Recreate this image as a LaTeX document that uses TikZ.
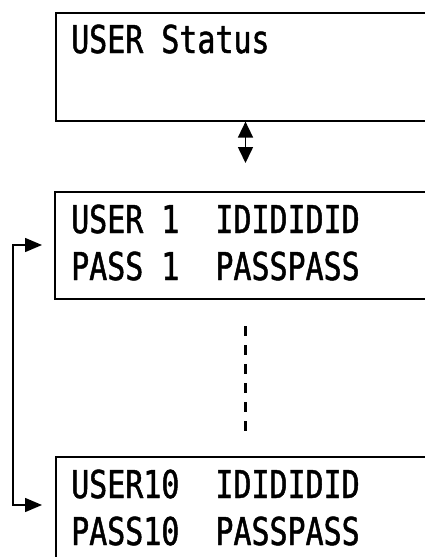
\documentclass[tikz,border=0pt]{standalone}
\usepackage{fontspec}
\usetikzlibrary{arrows.meta}
\newfontfamily\lcdfont[FakeStretch=0.78,FakeBold=1.2]{DejaVu Sans Mono}
\begin{document}
\begin{tikzpicture}[x=1pt,y=-1pt,
  screen/.style={draw=black,line width=1.6pt,rectangle,anchor=north west,inner sep=0pt,minimum width=400pt},
  lcd/.style={anchor=base west,inner sep=0pt,font=\lcdfont\fontsize{38.4pt}{40pt}\selectfont},
  tipv/.tip={Triangle[length=16pt,width=15pt]},
  tiph/.tip={Triangle[length=17pt,width=14pt]},
  dots/.style={line width=3pt,dash pattern=on 10pt off 9pt}]
\useasboundingbox (0,0) rectangle (425,557);
\begin{scope}
\clip (0,0) rectangle (425,557);
\node[screen,minimum height=108pt] (b1) at (55,12) {};
\node[screen,minimum height=107pt] (b2) at (54,191) {};
\node[screen,minimum height=130pt] (b3) at (55,456) {};
\end{scope}
\node[lcd] (t1) at (71,53) {USER~Status};
\node[lcd] (t2) at (71,233) {USER~1~~IDIDIDID};
\node[lcd] (t3) at (71,280) {PASS~1~~PASSPASS};
\node[lcd] (t4) at (71,498) {USER10~~IDIDIDID};
\node[lcd] (t5) at (71,545) {PASS10~~PASSPASS};
\coordinate (d1) at (245.5,163);
\draw[line width=1.6pt,tipv-tipv] (b1.south -| d1) -- (d1);
\coordinate (e1) at (245,326);
\coordinate (e2) at (245,431);
\draw[dots] (e1) -- (e2);
\coordinate (a2) at (42,245);
\coordinate (a3) at (42,505);
\coordinate (k2) at (13,245);
\coordinate (k3) at (13,505);
\draw[line width=1.5pt,tiph-tiph] (a2) -- (k2) -- (k3) -- (a3);
\end{tikzpicture}
\end{document}
